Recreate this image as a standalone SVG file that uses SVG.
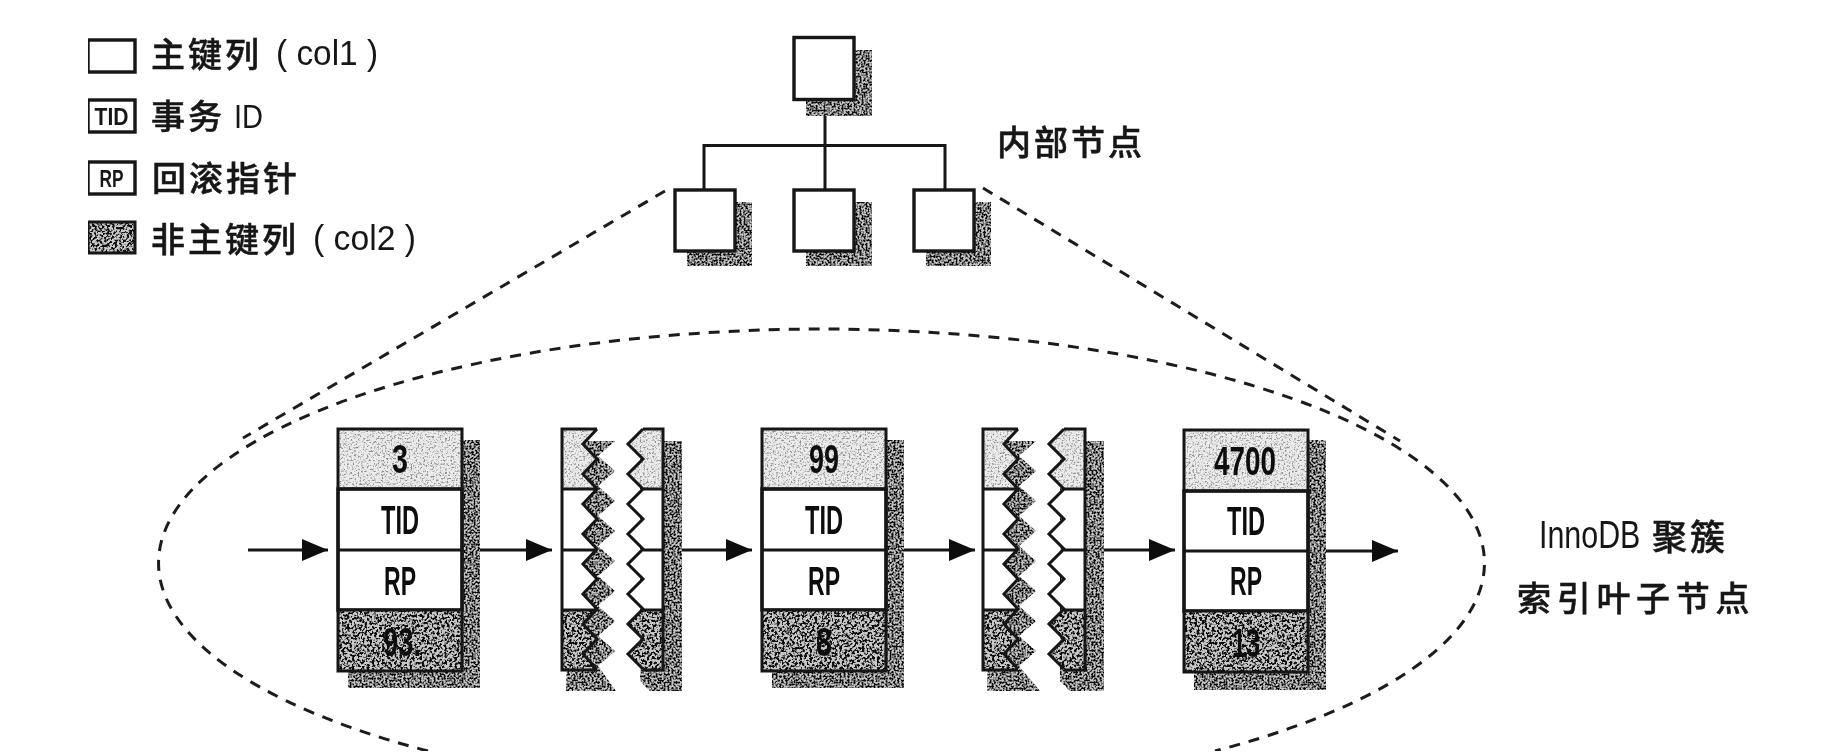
<svg xmlns="http://www.w3.org/2000/svg" width="1840" height="754" viewBox="0 0 1840 754">
<style>
.ln{fill:none;stroke:#141414;stroke-width:3}
.box{fill:#fff;stroke:#141414;stroke-width:3.4}
.dash{fill:none;stroke:#1c1c1c;stroke-width:3;stroke-dasharray:11 9}
.cn{font-family:"Noto Sans CJK SC","Liberation Sans",sans-serif;font-weight:500;fill:#161616;stroke:#161616;stroke-width:.5}
.lat{font-family:"Liberation Sans","Noto Sans CJK SC",sans-serif;fill:#161616}
.cell{font-family:"Liberation Sans",sans-serif;font-size:40px;font-weight:bold;text-anchor:middle;fill:#111}
.shade{fill:#c4c4c4;filter:url(#grainS)}
.dark{fill:#c8c8c8;filter:url(#grainD)}
.light{fill:#ececec;filter:url(#grainL)}
.wire{fill:none;stroke:#141414;stroke-width:3}
</style>
<defs>
<marker id="ah" markerUnits="userSpaceOnUse" markerWidth="28" markerHeight="24" refX="26" refY="12" orient="auto"><path d="M0 1L26 12L0 23Z" fill="#111"/></marker>
<filter id="soft" x="0" y="0" width="1" height="1"><feGaussianBlur stdDeviation="0.6"/></filter>
<filter id="grainS" x="0" y="0" width="1" height="1" color-interpolation-filters="sRGB"><feTurbulence type="fractalNoise" baseFrequency="0.5" numOctaves="2" seed="4"/><feColorMatrix type="matrix" values="0 0 0 0 0.05 0 0 0 0 0.05 0 0 0 0 0.05 7 0 0 0 -3.1"/><feComposite in2="SourceAlpha" operator="in"/><feMerge><feMergeNode in="SourceGraphic"/><feMergeNode/></feMerge></filter>
<filter id="grainD" x="0" y="0" width="1" height="1" color-interpolation-filters="sRGB"><feTurbulence type="fractalNoise" baseFrequency="0.4" numOctaves="2" seed="9"/><feColorMatrix type="matrix" values="0 0 0 0 0.05 0 0 0 0 0.05 0 0 0 0 0.05 7 0 0 0 -3.2"/><feComposite in2="SourceAlpha" operator="in"/><feMerge><feMergeNode in="SourceGraphic"/><feMergeNode/></feMerge></filter>
<filter id="grainL" x="0" y="0" width="1" height="1" color-interpolation-filters="sRGB"><feTurbulence type="fractalNoise" baseFrequency="0.55" numOctaves="2" seed="2"/><feColorMatrix type="matrix" values="0 0 0 0 0.55 0 0 0 0 0.55 0 0 0 0 0.55 4 0 0 0 -2"/><feComposite in2="SourceAlpha" operator="in"/><feMerge><feMergeNode in="SourceGraphic"/><feMergeNode/></feMerge></filter>
</defs>
<rect width="1840" height="754" fill="#fff"/>
<g filter="url(#soft)">
<g id="legend">
<g id="legend-key"><rect class="box" x="88" y="40" width="47" height="32"/><text class="cn" x="151" y="67" font-size="34" letter-spacing="3">主键列</text><text class="lat" x="276" y="65" font-size="35" textLength="102" lengthAdjust="spacingAndGlyphs" xml:space="preserve">( col1 )</text></g>
<g id="legend-tid"><rect class="box" x="88" y="100" width="47" height="32"/><text class="lat" x="111.500" y="125" font-size="24" font-weight="bold" text-anchor="middle" textLength="34" lengthAdjust="spacingAndGlyphs">TID</text><text class="cn" x="151" y="129" font-size="34" letter-spacing="3">事务</text><text class="lat" x="234" y="128" font-size="33" textLength="29" lengthAdjust="spacingAndGlyphs">ID</text></g>
<g id="legend-rp"><rect class="box" x="88" y="162" width="47" height="32"/><text class="lat" x="111.500" y="187" font-size="24" font-weight="bold" text-anchor="middle" textLength="24" lengthAdjust="spacingAndGlyphs">RP</text><text class="cn" x="152" y="191" font-size="34" letter-spacing="3">回滚指针</text></g>
<g id="legend-col"><rect class="dark" x="88" y="222" width="47" height="31"/><rect class="ln" x="88" y="222" width="47" height="31"/><text class="cn" x="151" y="252" font-size="34" letter-spacing="3">非主键列</text><text class="lat" x="313" y="250" font-size="35" textLength="103" lengthAdjust="spacingAndGlyphs" xml:space="preserve">( col2 )</text></g>
</g>
<g id="connectors">
<path class="wire" d="M825 100V190M704 190V145.500H945V190"/>
<path class="dash" d="M665 191L243 438M983 188L1400 441"/>
<path class="dash" d="M428 751A666 234 0 0 1 822 329A666 234 0 0 1 1215 751"/>
<path class="wire" marker-end="url(#ah)" d="M248 550H328"/>
<path class="wire" marker-end="url(#ah)" d="M468 550H552"/>
<path class="wire" marker-end="url(#ah)" d="M668 550H752"/>
<path class="wire" marker-end="url(#ah)" d="M892 550H975"/>
<path class="wire" marker-end="url(#ah)" d="M1096 550H1175"/>
<path class="wire" marker-end="url(#ah)" d="M1320 551H1398"/>
</g>
<g id="inner-top"><rect class="shade" x="806" y="50" width="66" height="66"/><rect class="box" x="794" y="37.500" width="60" height="62"/></g>
<g id="inner-left"><rect class="shade" x="687" y="202" width="65" height="64"/><rect class="box" x="675" y="190" width="60" height="61"/></g>
<g id="inner-mid"><rect class="shade" x="806" y="202" width="66" height="64"/><rect class="box" x="794" y="190" width="60" height="61"/></g>
<g id="inner-right"><rect class="shade" x="926" y="202" width="65" height="64"/><rect class="box" x="914" y="190" width="60" height="61"/></g>
<text id="inner-label" class="cn" x="997" y="155" font-size="34" letter-spacing="3">内部节点</text>
<g id="leaf-1">
<rect class="shade" x="348" y="440" width="132" height="248"/>
<rect class="light" x="338" y="429" width="124" height="60"/><rect class="box" x="338" y="489" width="124" height="121"/><rect class="dark" x="338" y="610" width="124" height="61"/>
<path class="ln" d="M338 429H462V671H338ZM338 489H462M338 550H462M338 610H462"/>
<text class="cell" x="400" y="473" textLength="16" lengthAdjust="spacingAndGlyphs">3</text><text class="cell" x="400" y="534" textLength="38" lengthAdjust="spacingAndGlyphs">TID</text><text class="cell" x="400" y="595" textLength="32" lengthAdjust="spacingAndGlyphs">RP</text><text class="cell" x="402" y="656" textLength="38" lengthAdjust="spacingAndGlyphs">93.</text>
</g>
<g id="break-1">
<path class="shade" d="M574 441H615L598 456L615 471L598 486L615 501L598 516L615 531L598 546L615 561L598 576L615 591L598 606L615 621L598 636L615 651L598 666L616 691H566Z"/>
<path class="shade" d="M640 441H682V691H650L640 681Z"/>
<path class="light" d="M562 429H597L583 444L597 459L583 474L597 489H562Z"/>
<path fill="#fff" d="M562 489H597L583 504L597 519L583 534L597 549L583 564L597 579L583 594L597 609H562Z"/>
<path class="dark" d="M562 609H597L583 624L597 639L583 654L597 669H562Z"/>
<path class="ln" d="M597 429H562V670H597M562 489H597M562 550H597M562 610H597M597 429L583 444L597 459L583 474L597 489L583 504L597 519L583 534L597 549L583 564L597 579L583 594L597 609L583 624L597 639L583 654L597 669"/>
<path class="light" d="M640 429H663V489H643L628 474L643 459L628 444Z"/>
<path fill="#fff" d="M643 489H663V609H643L628 594L643 579L628 564L643 549L628 534L643 519L628 504Z"/>
<path class="dark" d="M643 609H663V670H643L628 654L643 639L628 624Z"/>
<path class="ln" d="M643 429H663V670H643M643 489H663M643 550H663M643 610H663M643 429L628 444L643 459L628 474L643 489L628 504L643 519L628 534L643 549L628 564L643 579L628 594L643 609L628 624L643 639L628 654L643 669"/>
</g>
<g id="leaf-2">
<rect class="shade" x="772" y="440" width="132" height="248"/>
<rect class="light" x="762" y="429" width="124" height="60"/><rect class="box" x="762" y="489" width="124" height="121"/><rect class="dark" x="762" y="610" width="124" height="61"/>
<path class="ln" d="M762 429H886V671H762ZM762 489H886M762 550H886M762 610H886"/>
<text class="cell" x="824" y="473" textLength="30" lengthAdjust="spacingAndGlyphs">99</text><text class="cell" x="824" y="534" textLength="38" lengthAdjust="spacingAndGlyphs">TID</text><text class="cell" x="824" y="595" textLength="32" lengthAdjust="spacingAndGlyphs">RP</text><text class="cell" x="824" y="656" textLength="16" lengthAdjust="spacingAndGlyphs">8</text>
</g>
<g id="break-2">
<path class="shade" d="M995 441H1036L1019 456L1036 471L1019 486L1036 501L1019 516L1036 531L1019 546L1036 561L1019 576L1036 591L1019 606L1036 621L1019 636L1036 651L1019 666L1040 691H987Z"/>
<path class="shade" d="M1060 441H1104V691H1070L1060 681Z"/>
<path class="light" d="M983 429H1018L1004 444L1018 459L1004 474L1018 489H983Z"/>
<path fill="#fff" d="M983 489H1018L1004 504L1018 519L1004 534L1018 549L1004 564L1018 579L1004 594L1018 609H983Z"/>
<path class="dark" d="M983 609H1018L1004 624L1018 639L1004 654L1018 669H983Z"/>
<path class="ln" d="M1018 429H983V670H1018M983 489H1018M983 550H1018M983 610H1018M1018 429L1004 444L1018 459L1004 474L1018 489L1004 504L1018 519L1004 534L1018 549L1004 564L1018 579L1004 594L1018 609L1004 624L1018 639L1004 654L1018 669"/>
<path class="light" d="M1064 429H1085V489H1064L1049 474L1064 459L1049 444Z"/>
<path fill="#fff" d="M1064 489H1085V609H1064L1049 594L1064 579L1049 564L1064 549L1049 534L1064 519L1049 504Z"/>
<path class="dark" d="M1064 609H1085V670H1064L1049 654L1064 639L1049 624Z"/>
<path class="ln" d="M1064 429H1085V670H1064M1064 489H1085M1064 550H1085M1064 610H1085M1064 429L1049 444L1064 459L1049 474L1064 489L1049 504L1064 519L1049 534L1064 549L1049 564L1064 579L1049 594L1064 609L1049 624L1064 639L1049 654L1064 669"/>
</g>
<g id="leaf-3">
<rect class="shade" x="1194" y="440" width="132" height="250"/>
<rect class="light" x="1184" y="430" width="124" height="61"/><rect class="box" x="1184" y="491" width="124" height="120"/><rect class="dark" x="1184" y="611" width="124" height="61"/>
<path class="ln" d="M1184 430H1308V672H1184ZM1184 491H1308M1184 551H1308M1184 611H1308"/>
<text class="cell" x="1245" y="475" textLength="62" lengthAdjust="spacingAndGlyphs">4700</text><text class="cell" x="1246" y="535" textLength="38" lengthAdjust="spacingAndGlyphs">TID</text><text class="cell" x="1246" y="595" textLength="32" lengthAdjust="spacingAndGlyphs">RP</text><text class="cell" x="1246" y="657" textLength="28" lengthAdjust="spacingAndGlyphs">13</text>
</g>
<g id="leaf-label">
<text class="lat" transform="translate(1539 548) scale(.8 1)" font-size="38">InnoDB</text><text class="cn" x="1652" y="550" font-size="35" letter-spacing="3">聚簇</text>
<text class="cn" x="1517" y="611" font-size="34" letter-spacing="5.700">索引叶子节点</text>
</g>
</g>
</svg>
